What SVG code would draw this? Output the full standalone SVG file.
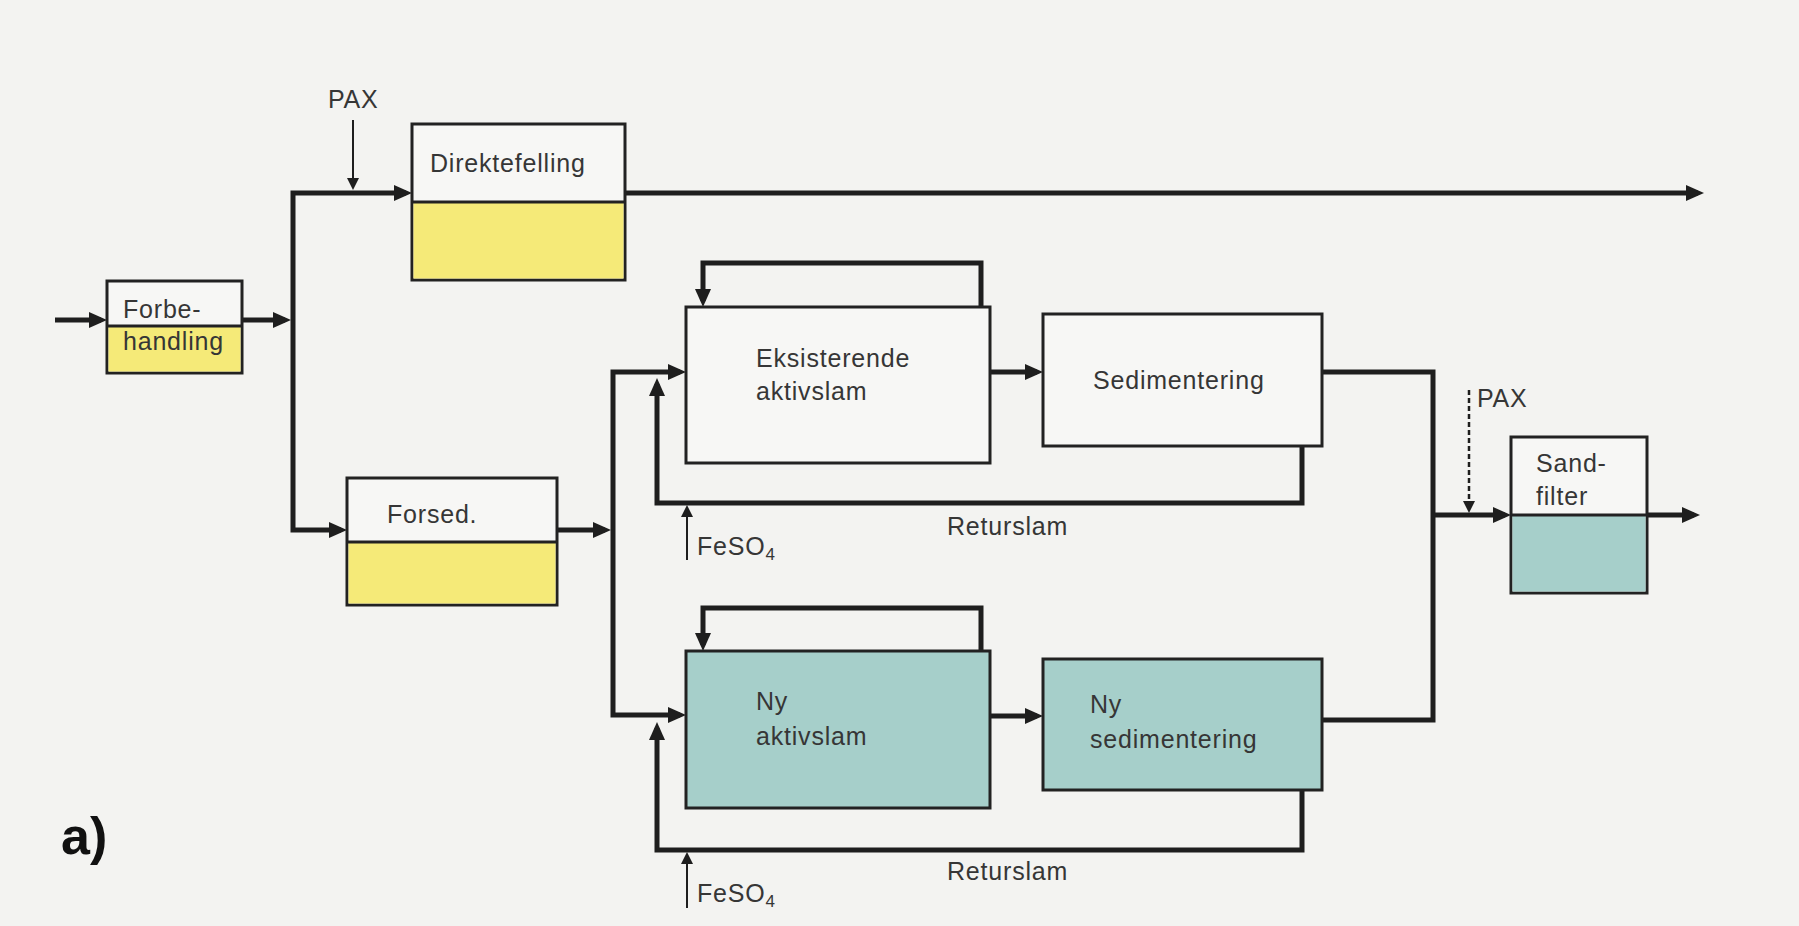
<svg xmlns="http://www.w3.org/2000/svg" width="1799" height="926" viewBox="0 0 1799 926">
<defs>
<style>
.box{stroke:#222;stroke-width:3;fill:#f7f7f5}
.yel{fill:#f5ea78}
.teal{fill:#a6cfca}
.div{stroke:#222;stroke-width:3}
.lbl{font-family:"Liberation Sans",Arial,sans-serif;font-size:25px;letter-spacing:0.8px;fill:#363636}
.con{fill:none;stroke:#1e1e1e;stroke-width:5;stroke-linejoin:miter}
.thin{fill:none;stroke:#1e1e1e;stroke-width:2}
.dash{fill:none;stroke:#1e1e1e;stroke-width:2.5;stroke-dasharray:5 3}
</style>
<marker id="ah" markerUnits="userSpaceOnUse" markerWidth="18" markerHeight="16" refX="12" refY="8" orient="auto-start-reverse"><path d="M0,0 L18,8 L0,16 z" fill="#1e1e1e"/></marker>
<marker id="as" markerUnits="userSpaceOnUse" markerWidth="12" markerHeight="12" refX="9" refY="6" orient="auto"><path d="M0,0 L12,6 L0,12 z" fill="#1e1e1e"/></marker>
</defs>
<rect width="1799" height="926" fill="#f3f3f1"/>

<g id="connectors">
<path class="con" d="M55 320 H101" marker-end="url(#ah)"/>
<path class="con" d="M242 320 H285" marker-end="url(#ah)"/>
<path class="con" d="M406 193 H293 V530 H341" marker-start="url(#ah)" marker-end="url(#ah)"/>
<path class="thin" d="M353 120 V187" marker-end="url(#as)"/>
<path class="con" d="M625 193 H1698" marker-end="url(#ah)"/>
<path class="con" d="M557 530 H605" marker-end="url(#ah)"/>
<path class="con" d="M680 372 H613 V715 H680" marker-start="url(#ah)" marker-end="url(#ah)"/>
<path class="con" d="M981 307 V263 H703 V301" marker-end="url(#ah)"/>
<path class="con" d="M990 372 H1037" marker-end="url(#ah)"/>
<path class="con" d="M1302 446 V503 H657 V384" marker-end="url(#ah)"/>
<path class="thin" d="M687 560 V508" marker-end="url(#as)"/>
<path class="con" d="M1322 372 H1433 V720 H1322"/>
<path class="con" d="M1433 515 H1505" marker-end="url(#ah)"/>
<path class="dash" d="M1469 390 V510" marker-end="url(#as)"/>
<path class="con" d="M1647 515 H1694" marker-end="url(#ah)"/>
<path class="con" d="M981 651 V608 H703 V645" marker-end="url(#ah)"/>
<path class="con" d="M990 716 H1037" marker-end="url(#ah)"/>
<path class="con" d="M1302 790 V850 H657 V728" marker-end="url(#ah)"/>
<path class="thin" d="M687 908 V855" marker-end="url(#as)"/>
</g>

<g id="forbehandling">
<rect class="box" x="107" y="281" width="135" height="92"/>
<rect class="yel" x="108.5" y="326" width="132" height="45.5"/>
<line class="div" x1="107" y1="326" x2="242" y2="326"/>
<text class="lbl" x="123" y="318">Forbe-</text>
<text class="lbl" x="123" y="350">handling</text>
</g>

<g id="pax-top">
<text class="lbl" x="328" y="108">PAX</text>
</g>

<g id="direktefelling">
<rect class="box" x="412" y="124" width="213" height="156"/>
<rect class="yel" x="413.5" y="202" width="210" height="76.5"/>
<line class="div" x1="412" y1="202" x2="625" y2="202"/>
<text class="lbl" x="430" y="172">Direktefelling</text>
</g>

<g id="forsed">
<rect class="box" x="347" y="478" width="210" height="127"/>
<rect class="yel" x="348.5" y="542" width="207" height="61.5"/>
<line class="div" x1="347" y1="542" x2="557" y2="542"/>
<text class="lbl" x="387" y="523">Forsed.</text>
</g>

<g id="eksisterende">
<rect class="box" x="686" y="307" width="304" height="156"/>
<text class="lbl" x="756" y="367">Eksisterende</text>
<text class="lbl" x="756" y="400">aktivslam</text>
</g>

<g id="sedimentering">
<rect class="box" x="1043" y="314" width="279" height="132"/>
<text class="lbl" x="1093" y="389">Sedimentering</text>
</g>

<g id="returslam-1">
<text class="lbl" x="947" y="535">Returslam</text>
</g>
<g id="feso4-1">
<text class="lbl" x="697" y="555">FeSO<tspan font-size="17" dy="5">4</tspan></text>
</g>

<g id="ny-aktivslam">
<rect class="box teal" x="686" y="651" width="304" height="157"/>
<text class="lbl" x="756" y="710">Ny</text>
<text class="lbl" x="756" y="745">aktivslam</text>
</g>

<g id="ny-sedimentering">
<rect class="box teal" x="1043" y="659" width="279" height="131"/>
<text class="lbl" x="1090" y="713">Ny</text>
<text class="lbl" x="1090" y="748">sedimentering</text>
</g>

<g id="returslam-2">
<text class="lbl" x="947" y="880">Returslam</text>
</g>
<g id="feso4-2">
<text class="lbl" x="697" y="902">FeSO<tspan font-size="17" dy="5">4</tspan></text>
</g>

<g id="pax-right">
<text class="lbl" x="1477" y="407">PAX</text>
</g>

<g id="sandfilter">
<rect class="box" x="1511" y="437" width="136" height="156"/>
<rect class="teal" x="1512.5" y="515" width="133" height="76.5"/>
<line class="div" x1="1511" y1="515" x2="1647" y2="515"/>
<text class="lbl" x="1536" y="472">Sand-</text>
<text class="lbl" x="1536" y="505">filter</text>
</g>

<g id="label-a">
<text x="61" y="854" font-family="Liberation Sans, Arial, sans-serif" font-size="52" font-weight="bold" fill="#111">a)</text>
</g>
</svg>
